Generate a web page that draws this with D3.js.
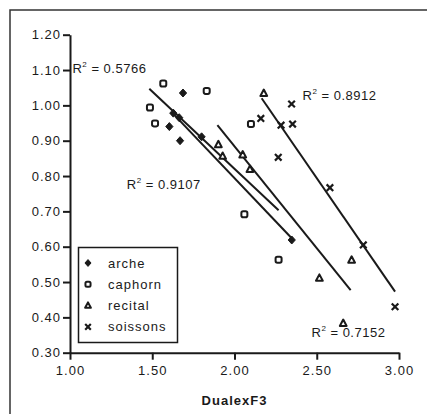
<!DOCTYPE html>
<html>
<head>
<meta charset="utf-8">
<script src="https://cdn.jsdelivr.net/npm/d3@7"></script>
<style>
  html, body { margin: 0; padding: 0; background: #fff; }
  svg text { font-family: "Liberation Sans", Arial, sans-serif; fill: #1a1a1a; }
</style>
</head>
<body>
<svg id="chart" width="427" height="414"></svg>
<script>
// ---- data ----
const seriesNames = ["arche", "caphorn", "recital", "soissons"];
const archeX    = [1.604, 1.628, 1.664, 1.669, 1.687, 1.800, 2.348];
const archeY    = [0.940, 0.978, 0.965, 0.900, 1.035, 0.911, 0.619];
const caphornX  = [1.486, 1.517, 1.567, 1.831, 2.100, 2.060, 2.268];
const caphornY  = [0.994, 0.949, 1.062, 1.041, 0.947, 0.692, 0.563];
const recitalX  = [1.902, 1.928, 2.050, 2.094, 2.178, 2.516, 2.661, 2.712];
const recitalY  = [0.889, 0.856, 0.860, 0.819, 1.034, 0.511, 0.383, 0.562];
const soissonsX = [2.160, 2.266, 2.283, 2.347, 2.353, 2.580, 2.783, 2.976];
const soissonsY = [0.963, 0.853, 0.944, 1.004, 0.947, 0.767, 0.605, 0.430];
// trend lines: [x0, y0, x1, y1] in data units
const trendArche    = [1.628, 0.976, 2.348, 0.624];
const trendCaphorn  = [1.482, 1.047, 2.268, 0.703];
const trendRecital  = [1.896, 0.944, 2.706, 0.477];
const trendSoissons = [2.165, 1.020, 2.976, 0.473];
const r2Labels = ["0.5766", "0.8912", "0.9107", "0.7152"];
const r2Pos    = [[1.015, 1.093], [2.414, 1.015], [1.345, 0.762], [2.468, 0.345]];
const xTicks = [1.0, 1.5, 2.0, 2.5, 3.0];
const yTicks = [0.3, 0.4, 0.5, 0.6, 0.7, 0.8, 0.9, 1.0, 1.1, 1.2];
const xTitle = "DualexF3";

const ink = "#1a1a1a";
const svg = d3.select("#chart");

// outer frame (left and top visible)
svg.append("path").attr("d", "M10,414 L10,10 L427,10")
  .attr("fill", "none").attr("stroke", "#333").attr("stroke-width", 1.5);

const x = d3.scaleLinear().domain([1, 3]).range([70, 399]);
const y = d3.scaleLinear().domain([0.3, 1.2]).range([352.7, 34.7]);

// axes
const xAxis = d3.axisBottom(x).tickValues(xTicks).tickFormat(d3.format(".2f")).tickSize(7).tickSizeOuter(0);
const yAxis = d3.axisLeft(y).tickValues(yTicks).tickFormat(d3.format(".2f")).tickSize(7).tickSizeOuter(0);

const gx = svg.append("g").attr("transform", `translate(0,${y(0.3)})`).call(xAxis);
const gy = svg.append("g").attr("transform", `translate(${x(1)},0)`).call(yAxis);
[gx, gy].forEach(g => {
  g.select(".domain").attr("stroke", ink).attr("stroke-width", 2);
  g.selectAll(".tick line").attr("stroke", ink).attr("stroke-width", 2);
  g.selectAll(".tick text").attr("font-size", 13).attr("letter-spacing", "1px")
    .attr("font-family", "Liberation Sans, Arial, sans-serif").attr("fill", ink);
});
gx.selectAll(".tick text").attr("dy", "0.3em").attr("y", 18);
gy.selectAll(".tick text").attr("x", -9);

// x title
svg.append("text").attr("x", x(2.0)).attr("y", 405).attr("text-anchor", "middle")
  .attr("font-size", 13).attr("font-weight", "bold").attr("letter-spacing", "1px").text(xTitle);

// trend lines
const trends = [trendArche, trendCaphorn, trendRecital, trendSoissons];
svg.append("g").selectAll("line").data(trends).join("line")
  .attr("x1", d => x(d[0])).attr("y1", d => y(d[1]))
  .attr("x2", d => x(d[2])).attr("y2", d => y(d[3]))
  .attr("stroke", ink).attr("stroke-width", 2);

// markers
function drawMarker(g, type, cx, cy, s) {
  s = s || 1;
  if (type === "arche") {
    g.append("path").attr("d", `M${cx},${cy-4*s} L${cx+3.6*s},${cy} L${cx},${cy+4*s} L${cx-3.6*s},${cy} Z`)
      .attr("fill", ink).attr("stroke", ink).attr("stroke-width", 1);
  } else if (type === "caphorn") {
    g.append("rect").attr("x", cx-3*s).attr("y", cy-3*s).attr("width", 6*s).attr("height", 6*s)
      .attr("rx", 1.8*s).attr("fill", "#fff").attr("stroke", ink).attr("stroke-width", 2);
  } else if (type === "recital") {
    g.append("path").attr("d", `M${cx},${cy-3.8*s} L${cx+3.4*s},${cy+2.6*s} L${cx-3.4*s},${cy+2.6*s} Z`)
      .attr("fill", "#fff").attr("stroke", ink).attr("stroke-width", 2).attr("stroke-linejoin", "round");
  } else {
    g.append("path").attr("d", `M${cx-3.3*s},${cy-3.3*s} L${cx+3.3*s},${cy+3.3*s} M${cx+3.3*s},${cy-3.3*s} L${cx-3.3*s},${cy+3.3*s}`)
      .attr("stroke", ink).attr("stroke-width", 2.2);
  }
}
const allSeries = [
  ["arche", archeX, archeY],
  ["caphorn", caphornX, caphornY],
  ["recital", recitalX, recitalY],
  ["soissons", soissonsX, soissonsY]
];
const gm = svg.append("g");
allSeries.forEach(([name, xs, ys]) => {
  xs.forEach((v, i) => drawMarker(gm, name, x(v), y(ys[i])));
});

// R² labels
r2Labels.forEach((lab, i) => {
  const t = svg.append("text").attr("x", x(r2Pos[i][0])).attr("y", y(r2Pos[i][1]))
    .attr("font-size", 13).attr("letter-spacing", "0.5px");
  t.append("tspan").text("R");
  t.append("tspan").attr("font-size", 8).attr("dy", -6).text("2");
  t.append("tspan").attr("dy", 6).text(" = " + lab);
});

// legend
const lg = svg.append("g");
lg.append("rect").attr("x", 78.5).attr("y", 247.5).attr("width", 99).attr("height", 95)
  .attr("fill", "#fff").attr("stroke", ink).attr("stroke-width", 1.5);
seriesNames.forEach((n, i) => {
  const cy = 263 + i * 21.3;
  drawMarker(lg, n, 88, cy, 0.85);
  lg.append("text").attr("x", 108).attr("y", cy + 4.5).attr("font-size", 13)
    .attr("letter-spacing", "1px").text(n);
});
</script>
</body>
</html>
